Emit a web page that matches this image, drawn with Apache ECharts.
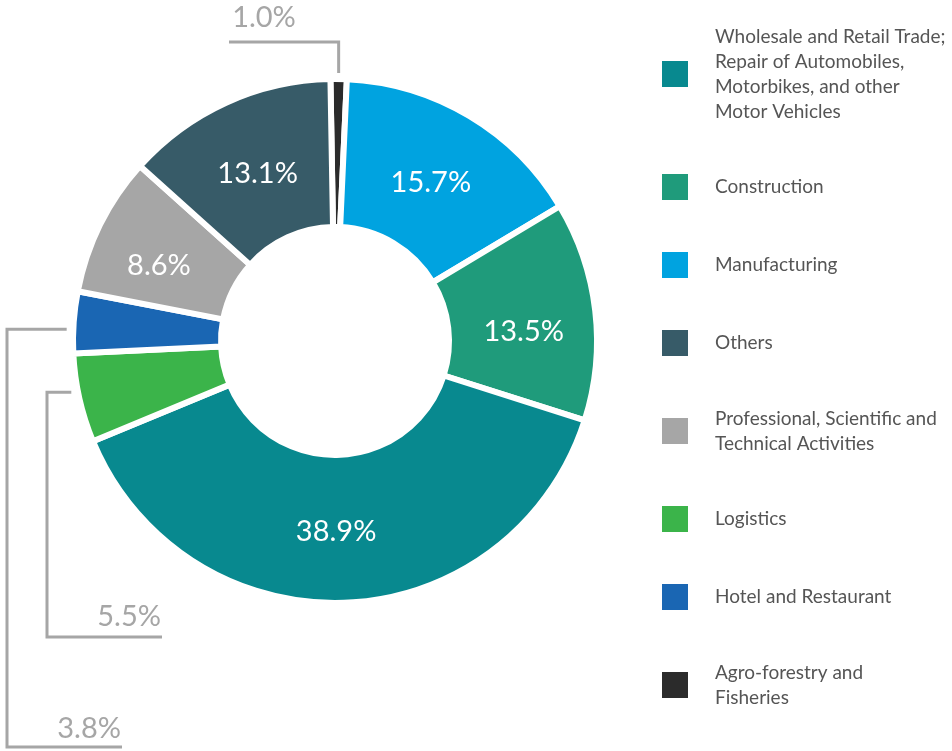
<!DOCTYPE html>
<html>
<head>
<meta charset="utf-8">
<script src="https://cdn.jsdelivr.net/npm/echarts@6/dist/echarts.min.js"></script>
<style>
  html, body { margin: 0; padding: 0; background: #ffffff; }
  #chart { width: 952px; height: 751px; }
</style>
</head>
<body>
<div id="chart"></div>
<script>
// ---- data (clockwise from 12 o'clock) ----
const categories = [
  'Agro-forestry and Fisheries',
  'Manufacturing',
  'Construction',
  'Wholesale and Retail Trade; Repair of Automobiles, Motorbikes, and other Motor Vehicles',
  'Logistics',
  'Hotel and Restaurant',
  'Professional, Scientific and Technical Activities',
  'Others'
];
const values = [1.0, 15.7, 13.5, 38.9, 5.5, 3.8, 8.6, 13.1];
const colors = ['#2b2b2b', '#00a3e0', '#1f9b7b', '#08898f', '#3bb44a', '#1a66b3', '#a6a6a6', '#375b68'];

// legend order and wrapped legend texts
const legendOrder = [
  'Wholesale and Retail Trade; Repair of Automobiles, Motorbikes, and other Motor Vehicles',
  'Construction',
  'Manufacturing',
  'Others',
  'Professional, Scientific and Technical Activities',
  'Logistics',
  'Hotel and Restaurant',
  'Agro-forestry and Fisheries'
];
const legendText = [
  'Wholesale and Retail Trade;\nRepair of Automobiles,\nMotorbikes, and other\nMotor Vehicles',
  'Construction',
  'Manufacturing',
  'Others',
  'Professional, Scientific and\nTechnical Activities',
  'Logistics',
  'Hotel and Restaurant',
  'Agro-forestry and\nFisheries'
];

const FONT = 'Lato, "Noto Sans", sans-serif';
const OUT_COLOR = '#a6a6a6';
const smallThreshold = 6;

const pieData = categories.map(function (name, i) {
  const small = values[i] < smallThreshold;
  return {
    name: name,
    value: values[i],
    itemStyle: { color: colors[i] },
    label: small
      ? { position: 'outside', color: OUT_COLOR }
      : { position: 'inside', color: '#ffffff' },
    labelLine: { show: small }
  };
});

// small visual nudges of inside labels (layout only)
const insideNudge = {
  'Construction': [-1, 13],
  'Professional, Scientific and Technical Activities': [-5, 10],
  'Wholesale and Retail Trade; Repair of Automobiles, Motorbikes, and other Motor Vehicles': [-7, 0],
  'Manufacturing': [-2, 6],
  'Others': [2, 6]
};

const chart = echarts.init(document.getElementById('chart'), null, { renderer: 'canvas' });

chart.setOption({
  backgroundColor: '#ffffff',
  animation: false,
  legend: {
    orient: 'vertical',
    left: 655,
    top: 19,
    itemWidth: 28,
    itemHeight: 28,
    itemGap: 48,
    icon: 'rect',
    data: legendOrder,
    formatter: function (name) {
      return legendText[legendOrder.indexOf(name)];
    },
    textStyle: {
      fontFamily: FONT,
      fontSize: 19,
      lineHeight: 25,
      color: '#555555',
      padding: [0, 0, 0, 21]
    },
    selectedMode: false
  },
  series: [{
    type: 'pie',
    center: [335, 341],
    radius: [114, 262],
    startAngle: 91,
    clockwise: true,
    avoidLabelOverlap: false,
    data: pieData,
    itemStyle: { borderColor: '#ffffff', borderWidth: 6 },
    label: {
      show: true,
      fontFamily: FONT,
      fontSize: 29,
      formatter: function (p) { return p.value.toFixed(1) + '%'; }
    },
    labelLine: {
      show: false,
      lineStyle: { color: OUT_COLOR, width: 3 },
      smooth: false
    },
    emphasis: { disabled: true },
    labelLayout: function (p) {
      const v = values[p.dataIndex];
      const name = categories[p.dataIndex];
      if (!(v < smallThreshold)) {
        const n = insideNudge[name];
        if (!n) return {};
        return { dx: n[0], dy: n[1] };
      }
      if (!p.labelLinePoints) return {};
      const a = p.labelLinePoints[0];
      if (name === 'Agro-forestry and Fisheries') {
        return {
          x: 264, y: 18, align: 'center', verticalAlign: 'middle',
          labelLinePoints: [[a[0], a[1] - 6], [a[0], 42], [229, 42]]
        };
      }
      if (name === 'Logistics') {
        const y = a[1] - 6;
        return {
          x: 161, y: 617, align: 'right', verticalAlign: 'middle',
          labelLinePoints: [[a[0] - 8, y], [47, y], [47, 637], [162, 637]]
        };
      }
      if (name === 'Hotel and Restaurant') {
        const y = a[1] + 7;
        return {
          x: 121, y: 729, align: 'right', verticalAlign: 'middle',
          labelLinePoints: [[a[0] - 7, y], [7, y], [7, 747], [122, 747]]
        };
      }
      return {};
    }
  }]
});
</script>
</body>
</html>
